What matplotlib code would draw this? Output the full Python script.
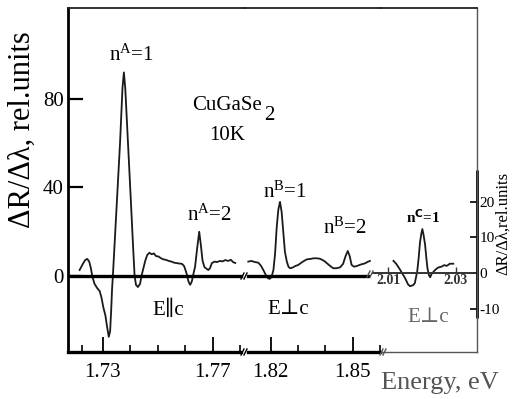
import matplotlib
matplotlib.use("Agg")
import matplotlib.pyplot as plt
from matplotlib.lines import Line2D

plt.rcParams["font.family"] = ["Liberation Serif", "DejaVu Serif"]
plt.rcParams["mathtext.fontset"] = "custom"
plt.rcParams["mathtext.rm"] = "Liberation Serif"
plt.rcParams["mathtext.it"] = "Liberation Serif:italic"

# --- spectra: photon energy (eV) and dR/dlambda (rel. units) ---
e_par = [1.7216, 1.7228, 1.7237, 1.7244, 1.7251, 1.7257, 1.7262, 1.7270, 1.7280,
         1.7289, 1.7296, 1.7302, 1.7310, 1.7316, 1.7322, 1.7327, 1.7331, 1.7334,
         1.7337, 1.7350, 1.7363, 1.7372, 1.7377, 1.7382, 1.7392, 1.7402, 1.7411,
         1.7416, 1.7421, 1.7428, 1.7436, 1.7441, 1.7447, 1.7455, 1.7462, 1.7470,
         1.7478, 1.7486, 1.7494, 1.7503, 1.7512, 1.7521, 1.7530, 1.7540, 1.7550,
         1.7560, 1.7570, 1.7580, 1.7588, 1.7596, 1.7605, 1.7612, 1.7618, 1.7624,
         1.7630, 1.7636, 1.7643, 1.7651, 1.7657, 1.7663, 1.7670, 1.7684, 1.7690,
         1.7697, 1.7706, 1.7716, 1.7726, 1.7736, 1.7746, 1.7756, 1.7766, 1.7775,
         1.7782]
r_par = [2.7, 5.5, 7.3, 7.7, 6.5, 3.5, 0.0, -3.5, -5.5,
         -6.8, -10.0, -14.0, -18.0, -23.0, -27.5, -25.0, -15.0, -6.0,
         0.0, 30.0, 60.0, 85.0, 92.0, 85.0, 60.0, 35.0, 12.0,
         0.0, -4.0, -5.0, -3.5, 0.0, 3.0, 7.0, 9.5, 10.5,
         9.8, 10.2, 9.0, 8.8, 8.0, 7.5, 7.3, 6.8, 6.5,
         6.0, 5.8, 5.6, 5.5, 4.5, 1.2, -2.5, -4.0, -2.5,
         1.0, 4.2, 12.0, 20.0, 14.0, 7.0, 4.0, 2.7, 3.5,
         5.8, 6.5, 6.3, 6.8, 6.6, 7.2, 6.8, 7.3, 6.2,
         5.9]

e_perp_b = [1.8118, 1.8130, 1.8142, 1.8155, 1.8165, 1.8173, 1.8182, 1.8190, 1.8196,
            1.8203, 1.8210, 1.8216, 1.8222, 1.8228, 1.8234, 1.8240, 1.8246, 1.8252,
            1.8259, 1.8265, 1.8271, 1.8280, 1.8290, 1.8301, 1.8312, 1.8322, 1.8332,
            1.8345, 1.8357, 1.8368, 1.8380, 1.8390, 1.8399, 1.8410, 1.8420, 1.8429,
            1.8440, 1.8454, 1.8465, 1.8474, 1.8482, 1.8489, 1.8496, 1.8505, 1.8515,
            1.8530, 1.8545, 1.8555, 1.8563]
r_perp_b = [6.5, 6.8, 6.3, 6.0, 4.5, 2.7, 0.5, -1.0, -1.3,
            -0.5, 2.7, 10.0, 22.0, 30.0, 33.5, 29.0, 20.0, 11.0,
            6.5, 4.2, 3.5, 3.8, 4.5, 5.0, 6.0, 6.8, 7.5,
            7.7, 8.0, 8.0, 7.8, 7.2, 6.5, 5.3, 4.3, 3.5,
            3.5, 3.9, 5.5, 9.0, 11.3, 9.0, 5.0, 4.2, 4.5,
            5.2, 5.7, 6.4, 6.8]

e_perp_c = [2.0116, 2.0124, 2.0135, 2.0150, 2.0159, 2.0165, 2.0174, 2.0179, 2.0186,
            2.0190, 2.0194, 2.0198, 2.0201, 2.0204, 2.0209, 2.0213, 2.0216, 2.0220,
            2.0224, 2.0228, 2.0238, 2.0247, 2.0258, 2.0265, 2.0273, 2.0282, 2.0292]
r_perp_c = [3.4, 2.6, 1.0, -1.4, -3.2, -3.7, -3.4, -2.8, 0.5,
            4.0, 8.5, 11.0, 12.3, 11.0, 8.0, 4.0, 1.4, -0.5,
            -1.2, -0.3, 0.8, 1.5, 1.8, 2.2, 2.0, 2.6, 2.6]

left_ticks = [0, 40, 80]
right_ticks = [-10, 0, 10, 20]
ticks_a_major = [1.73, 1.77]
ticks_a_minor = [1.7225, 1.74, 1.75, 1.76, 1.78]
ticks_b_major = [1.82, 1.85]
ticks_b_minor = [1.83, 1.84, 1.86]
ticks_c = [2.01, 2.03]

W, H = 515, 399
fig = plt.figure(figsize=(W / 100, H / 100), dpi=100)


def fx(px):
    return px / W


def fy(py):
    return 1 - py / H


def box(x0, x1, y0=8, y1=352):
    return [fx(x0), fy(y1), fx(x1) - fx(x0), (y1 - y0) / H]


ink = "#1a1a1a"
ax1 = fig.add_axes(box(68, 245))
ax2 = fig.add_axes(box(245, 381))
ax3 = fig.add_axes(box(381, 477))

ax1.set_xlim(1.71738, 1.78175)
ax2.set_xlim(1.81060, 1.86036)
ax3.set_xlim(2.00794, 2.03618)
ax1.set_ylim(-34.35, 121.1)
ax2.set_ylim(-34.35, 121.1)
ax3.set_ylim(-22.13, 74.23)

for ax in (ax1, ax2, ax3):
    ax.patch.set_visible(False)
    ax.spines["top"].set_linewidth(1.3)
    ax.spines["top"].set_color("#222222")
    ax.spines["left"].set_visible(False)
    ax.spines["right"].set_visible(False)

ax1.spines["left"].set_visible(True)
ax1.spines["left"].set_linewidth(2.0)
ax1.spines["left"].set_color("black")
for ax in (ax1, ax2):
    ax.spines["bottom"].set_linewidth(2.4)
    ax.spines["bottom"].set_color("black")
ax1.spines["bottom"].set_bounds(1.71738, 1.78029)
ax2.spines["bottom"].set_bounds(1.81169, 1.85999)
ax3.spines["bottom"].set_linewidth(1.0)
ax3.spines["bottom"].set_color("#555555")
ax3.spines["right"].set_visible(True)
ax3.spines["right"].set_linewidth(1.0)
ax3.spines["right"].set_color("#555555")

# spectra
ax1.plot(e_par, r_par, color=ink, lw=1.3)
ax2.plot(e_perp_b, r_perp_b, color=ink, lw=1.3)
ax3.plot(e_perp_c, r_perp_c, color=ink, lw=1.3)

# zero lines
ax1.axhline(0, xmin=0, xmax=(241 - 68) / (245 - 68), color="black", lw=2.4)
ax2.axhline(0, xmin=(248 - 245) / 136, xmax=(368 - 245) / 136, color="black", lw=2.4)
ax3.axhline(0, xmin=(373 - 381) / 96, xmax=1, color="#333333", lw=1.4, clip_on=False)

# left axis
ax1.set_yticks(left_ticks)
ax1.tick_params(axis="y", direction="in", length=11, width=1.6, labelsize=15,
                pad=3, colors="black")
ax2.set_yticks([])
ax3.set_yticks([])

# bottom axis
ax1.set_xticks(ticks_a_major)
ax1.set_xticks(ticks_a_minor, minor=True)
ax2.set_xticks(ticks_b_major)
ax2.set_xticks(ticks_b_minor, minor=True)
for ax in (ax1, ax2):
    ax.xaxis.set_major_formatter(plt.FormatStrFormatter("%.2f"))
    ax.tick_params(axis="x", which="major", direction="in", length=11, width=1.3,
                   labelsize=15, pad=8)
    ax.tick_params(axis="x", which="minor", direction="in", length=5, width=1.2)
ax3.set_xticks([])

# right axis for the C-exciton spectrum
ax3.yaxis.set_ticks_position("right")
ax3.set_yticks(right_ticks)
ax3.set_yticklabels([str(t) for t in right_ticks])
ax3.tick_params(axis="y", direction="in", length=5, width=1.2, labelsize=11, pad=2,
                right=True, left=False, labelright=True, labelleft=False)
ax3.plot([1, 1], [-12.6, 28.9], transform=ax3.get_yaxis_transform(), color="black",
         lw=2.0, clip_on=False, solid_capstyle="butt")

# energy scale on the zero line of the C-exciton spectrum
zero_frac = 22.13 / (74.23 + 22.13)
sec = ax3.secondary_xaxis(zero_frac)
sec.set_xticks(ticks_c)
sec.xaxis.set_major_formatter(plt.FormatStrFormatter("%.2f"))
sec.spines["bottom"].set_visible(False)
sec.tick_params(axis="x", direction="in", length=4, width=1.0, labelsize=10, pad=1,
                colors="#333333")
for lab in sec.get_xticklabels():
    lab.set_fontweight("bold")

# axis breaks
def brk(px, py, color="black"):
    for dx in (-1.5, 1.5):
        fig.add_artist(Line2D([fx(px + dx - 1.5), fx(px + dx + 1.5)],
                              [fy(py + 3), fy(py - 3)], color=color, lw=1.0))


brk(244, 352)
brk(383, 352, "#555555")
brk(244, 276)
brk(370, 274, "#555555")

# labels
def label(px, py, s, size=15, **kw):
    fig.text(fx(px), fy(py), s, fontsize=size, ha="center", va="center", **kw)


label(131, 55, r"n$^{\mathrm{A}}$=1")
fig.text(fx(192), fy(105), "CuGaSe", fontsize=15, ha="left", va="center")
fig.text(fx(264), fy(116), "2", fontsize=15, ha="left", va="center")
label(227, 135, "10K")
label(209, 215, r"n$^{\mathrm{A}}$=2")
label(168, 310, "E\u2225c")
label(285, 192, r"n$^{\mathrm{B}}$=1")
label(345, 228, r"n$^{\mathrm{B}}$=2")
label(288, 310, "E\u22a5c")
label(423, 217, r"n$^{\mathbf{C}}$=1", size=11, fontweight="bold")
label(428, 317, "E\u22a5c", color="#666666")
label(440, 383, "Energy, eV", size=19, color="#555555")
label(22, 130, "\u0394R/\u0394\u03bb, rel.units", size=22, rotation=90)
label(503, 223, "\u0394R/\u0394\u03bb,rel.units", size=12, rotation=90)

fig.savefig("out.png", dpi=100)
